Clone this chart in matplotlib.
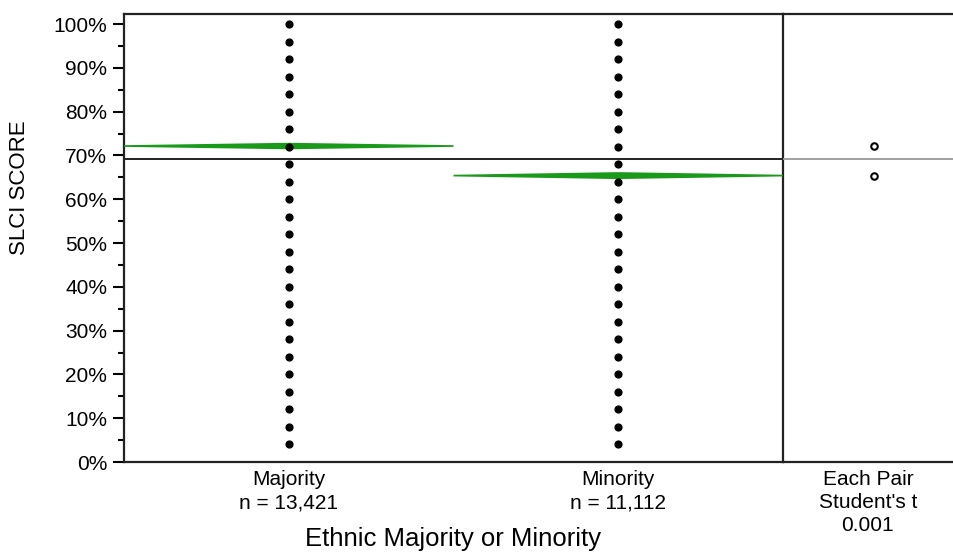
import numpy as np
import matplotlib.pyplot as plt
from matplotlib.patches import Polygon

plt.rcParams['font.family'] = ['Liberation Sans', 'DejaVu Sans']

# groups and summary values
groups = ['Majority', 'Minority']
group_n = [13421, 11112]
group_means = [72.15, 65.4]      # SLCI score, percent
ci_half = [0.55, 0.6]            # half height of the means diamonds
grand_mean = 69.1
score_levels = [k * 4 for k in range(1, 26)]   # 4%, 8%, ... 100%
pair_test = ['Each Pair', "Student's t", '0.001']

fig = plt.figure(figsize=(9.54, 5.52), dpi=100)
ax = fig.add_axes([124 / 954, 1 - 462 / 552, (783 - 124) / 954, (462 - 14) / 552])
ax2 = fig.add_axes([783 / 954, 1 - 462 / 552, (954 - 783) / 954 + 0.01, (462 - 14) / 552])
ax2.patch.set_visible(False)

ymax = 102.3
ax.set_ylim(0, ymax)
ax.set_xlim(0, 2)
centers = [0.5, 1.5]

# raw scores stacked as dot columns
for c in centers:
    ax.scatter([c] * len(score_levels), score_levels, s=24, color='black', zorder=4,
               clip_on=False)

# grand mean
ax.axhline(grand_mean, color='#222222', lw=1.4, zorder=2)

# means diamonds spanning each group
for i, (c, m, h) in enumerate(zip(centers, group_means, ci_half)):
    left, right = c - 0.5, c + 0.5
    pts = [(left, m), (c, m + h), (right, m), (c, m - h)]
    ax.add_patch(Polygon(pts, closed=True, facecolor='#1a9a1a', edgecolor='#1a9a1a',
                         lw=1.2, zorder=3))

ax.set_yticks(np.arange(0, 101, 10))
ax.set_yticklabels([f'{v}%' for v in range(0, 101, 10)], fontsize=15)
ax.set_yticks(np.arange(5, 100, 10), minor=True)
ax.tick_params(axis='y', which='major', length=8, width=1.5, pad=4)
ax.tick_params(axis='y', which='minor', length=4, width=1.5)
ax.set_xticks(centers)
ax.set_xticklabels([f'{g}\nn = {n:,}' for g, n in zip(groups, group_n)], fontsize=15,
                   linespacing=1.25)
ax.tick_params(axis='x', length=0, pad=6)
for s in ax.spines.values():
    s.set_linewidth(1.6)
    s.set_color('#222222')

ax.set_ylabel('SLCI SCORE', fontsize=16)
ax.yaxis.set_label_coords(-0.143, 0.612)
ax.set_xlabel('Ethnic Majority or Minority', fontsize=18.5, labelpad=11)

# comparison circles panel
ax2.set_ylim(0, ymax)
ax2.set_xlim(0, 1)
ax2.axhline(grand_mean, color='#999999', lw=1.3)
ax2.scatter([0.504] * 2, group_means, s=22, facecolor='white', edgecolor='black',
            linewidth=1.5, zorder=3)
ax2.set_xticks([0.47])
ax2.set_xticklabels(['\n'.join(pair_test)], fontsize=15, linespacing=1.25)
ax2.tick_params(axis='x', length=0, pad=6)
ax2.set_yticks([])
ax2.spines['right'].set_visible(False)
ax2.spines['left'].set_visible(False)
for s in ax2.spines.values():
    s.set_linewidth(1.6)
    s.set_color('#222222')

fig.savefig('out.png', dpi=100)
